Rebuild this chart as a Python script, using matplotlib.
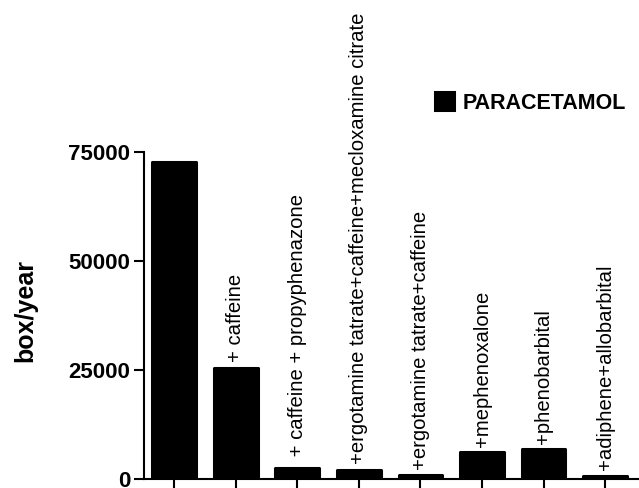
import matplotlib
matplotlib.use('Agg')
import matplotlib.pyplot as plt

plt.rcParams['font.family'] = ['Liberation Sans', 'DejaVu Sans']

# data
combos = ['', '+ caffeine', ' + caffeine + propyphenazone',
          '+ergotamine tatrate+caffeine+mecloxamine citrate',
          '+ergotamine tatrate+caffeine', '+mephenoxalone',
          '+phenobarbital', '+adiphene+allobarbital']
boxes = [72800, 25500, 2600, 2100, 900, 6100, 6800, 800]
yticks = [0, 25000, 50000, 75000]

fig = plt.figure(figsize=(6.39, 4.88), dpi=100)
W, H = 639, 488
ax = fig.add_axes([144 / W, 9 / H, (W - 144) / W, (479 - 152) / H])

x = list(range(len(boxes)))
bars = ax.bar(x, boxes, width=0.71, color='black', edgecolor='black',
              linewidth=2.2, joinstyle='round', label='PARACETAMOL')

# rotated labels above each bar
for xi, val, lab in zip(x, boxes, combos):
    if lab:
        ax.annotate(lab, (xi, val), xytext=(0, 4), textcoords='offset points',
                    rotation=90, ha='center', va='bottom', fontsize=14.6)

ax.set_xlim(-0.49, 7.55)
ax.set_ylim(0, 75000)
ax.set_yticks(yticks)
ax.set_yticklabels([str(t) for t in yticks], fontsize=16, fontweight='bold')
ax.set_xticks(x)
ax.set_xticklabels([])

for side in ['top', 'right']:
    ax.spines[side].set_visible(False)
for side in ['left', 'bottom']:
    ax.spines[side].set_linewidth(1.5)
ax.tick_params(axis='y', direction='out', length=7, width=1.5, pad=3)
ax.tick_params(axis='x', direction='out', length=10, width=1.5)

fig.text(25 / W, 1 - 310 / H, 'box/year', rotation=90, ha='center', va='center',
         fontsize=18, fontweight='bold')

ax.legend(frameon=False, loc='center left',
          bbox_to_anchor=(435 / W, 1 - 103 / H), bbox_transform=fig.transFigure,
          borderpad=0, borderaxespad=0, handlelength=0.9, handleheight=0.9,
          handletextpad=0.37, prop={'size': 15.5, 'weight': 'bold'})

fig.savefig('out.png', dpi=100)
